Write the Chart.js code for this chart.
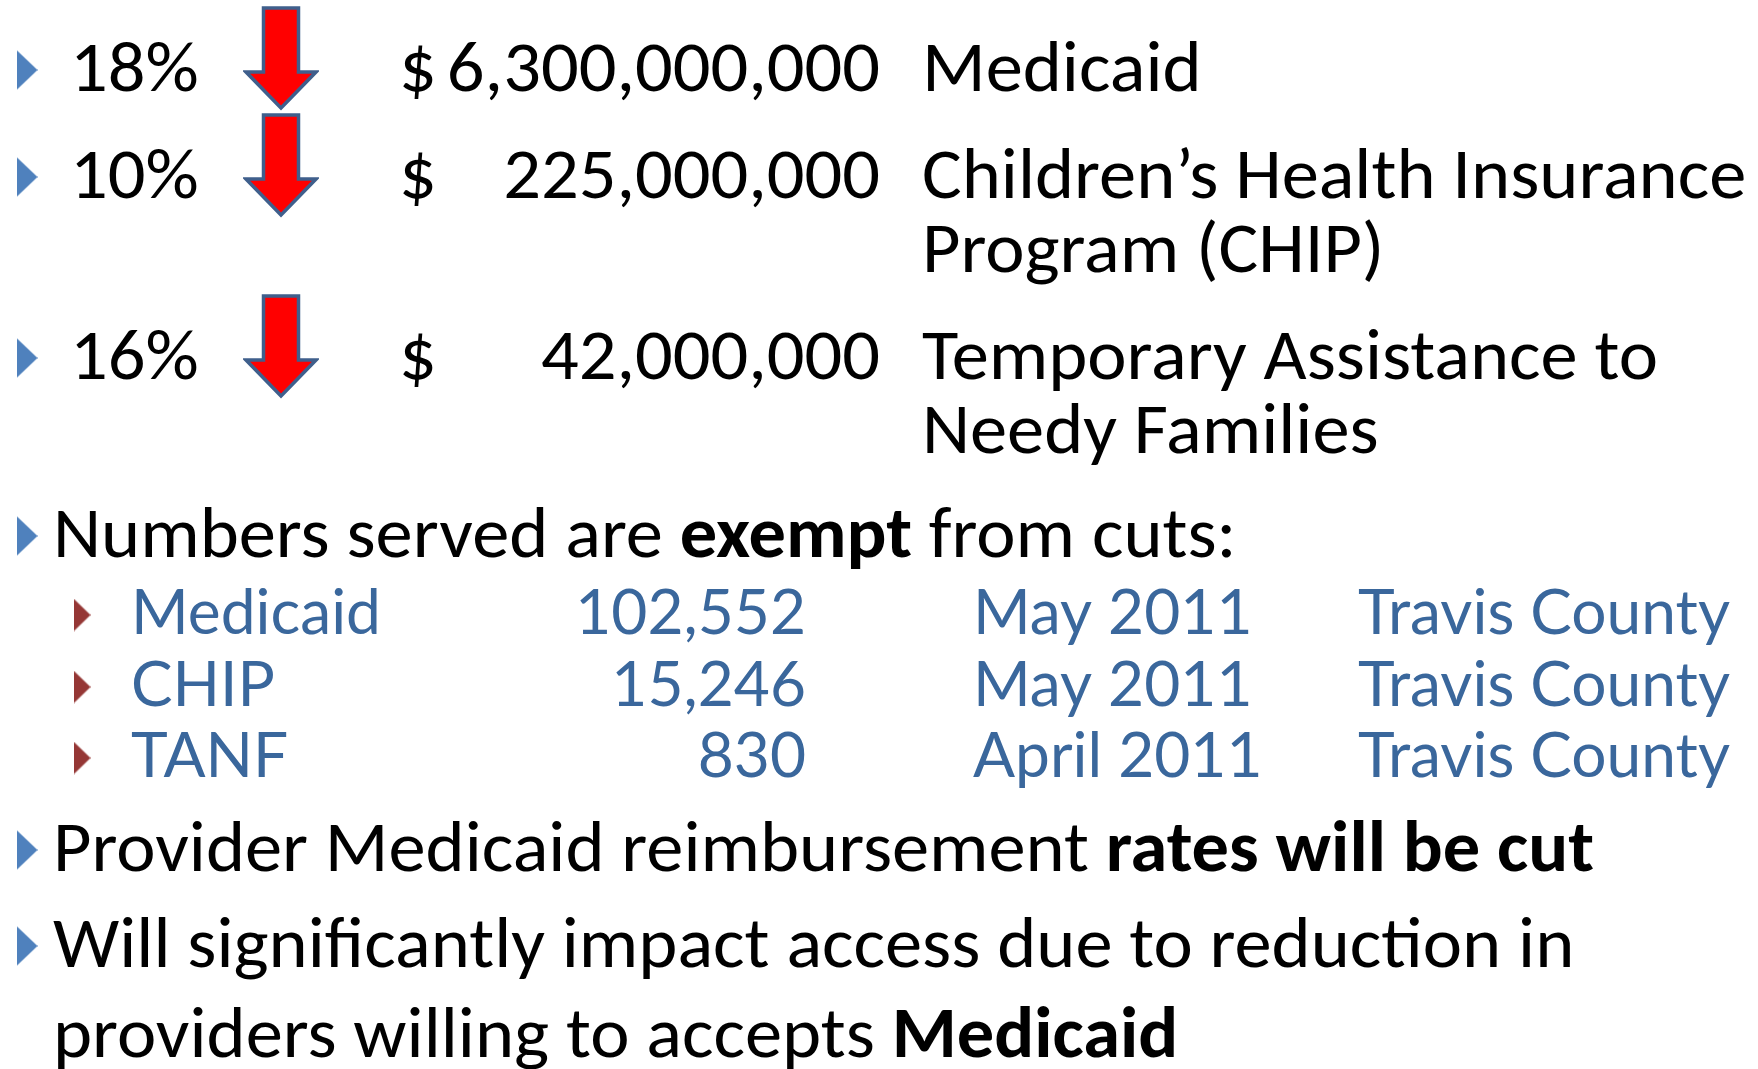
<!DOCTYPE html>
<html>
<head>
<meta charset="utf-8">
<script src="https://cdn.jsdelivr.net/npm/chart.js@4.4.1/dist/chart.umd.min.js"></script>
<style>
  html, body { margin:0; padding:0; background:#fff; }
</style>
</head>
<body>
<canvas id="slide" width="1758" height="1069"></canvas>
<script>
// ===============================
// DATA
// ===============================
const cutPct = [18, 10, 16];
const cutAmount = [6300000000, 225000000, 42000000];
const cutProgram = [
  ["Medicaid"],
  ["Children’s Health Insurance", "Program (CHIP)"],
  ["Temporary Assistance to", "Needy Families"]
];
const servedProgram = ["Medicaid", "CHIP", "TANF"];
const servedCount = [102552, 15246, 830];
const servedDate = ["May 2011", "May 2011", "April 2011"];
const servedArea = ["Travis County", "Travis County", "Travis County"];

// ===============================
// LAYOUT (slide pixels)
// ===============================
const W = 1758, H = 1069;
const cutRowY = [91, 198, 379];      // baselines of the cut rows
const wrapGap = 74;                  // second line of a wrapped name
const servedHeadY = 557;
const servedRowY = [634, 706, 777];
const noteY = [871, 967, 1057];
const col = {
  bullet: 27, pct: 70, arrow: 281, dollar: 399, amountRight: 880, program: 922,
  subBullet: 82, subName: 131, subCountRight: 806, subDate: 973, subArea: 1358, text: 53
};

const BLACK_FONT = "Carlito, Calibri, 'Open Sans', sans-serif";
const BLUE_FONT = "'Gill Sans MT', 'Gill Sans', Lato, sans-serif";
const BLUE = "#3a679c";

// ===============================
// POINT SHAPES
// ===============================
function arrowImg(){
  let c = document.createElement("canvas");
  c.width = 76; c.height = 106;
  let g = c.getContext("2d");
  let m = 3;
  g.beginPath();
  g.moveTo(m + 17.5, m);
  g.lineTo(m + 52.5, m);
  g.lineTo(m + 52.5, m + 64);
  g.lineTo(m + 70, m + 64);
  g.lineTo(m + 35, m + 100);
  g.lineTo(m, m + 64);
  g.lineTo(m + 17.5, m + 64);
  g.closePath();
  g.fillStyle = "#ff0000";
  g.fill();
  g.lineWidth = 3.5;
  g.strokeStyle = "#3f5f8c";
  g.stroke();
  return c;
}

function bulletImg(w, h, color){
  let c = document.createElement("canvas");
  c.width = w; c.height = h;
  let g = c.getContext("2d");
  g.beginPath();
  g.moveTo(0, 0);
  g.lineTo(w, h / 2);
  g.lineTo(0, h);
  g.closePath();
  g.fillStyle = color;
  g.fill();
  return c;
}

// ===============================
// TEXT HELPERS
// ===============================
function fontSize(ctx, family, weight, cap){
  ctx.font = weight + " 100px " + family;
  let a = ctx.measureText("H").actualBoundingBoxAscent || 71;
  return cap * 100 / a;
}

function runsWidth(ctx, runs, size, family){
  let w = 0;
  runs.forEach(r => {
    ctx.font = (r[1] ? "bold " : "normal ") + size + "px " + family;
    w += ctx.measureText(r[0]).width;
  });
  return w;
}

function drawRuns(ctx, runs, x, y, size, family, sx, color, align){
  let w = runsWidth(ctx, runs, size, family) * sx;
  let start = align === "right" ? x - w : x;
  ctx.save();
  ctx.translate(start, y);
  ctx.scale(sx, 1);
  ctx.fillStyle = color;
  ctx.textBaseline = "alphabetic";
  ctx.textAlign = "left";
  let cx = 0;
  runs.forEach(r => {
    ctx.font = (r[1] ? "bold " : "normal ") + size + "px " + family;
    ctx.fillText(r[0], cx, 0);
    cx += ctx.measureText(r[0]).width;
  });
  ctx.restore();
}

// ===============================
// TEXT PLUGIN
// ===============================
const slideText = {
  id: "slideText",
  afterDatasetsDraw(chart){
    let ctx = chart.ctx;
    let px = v => chart.scales.x.getPixelForValue(v);
    let py = v => chart.scales.y.getPixelForValue(v);

    let bSize = fontSize(ctx, BLACK_FONT, "normal", 47);
    let noteRuns = [["Provider Medicaid reimbursement ", false], ["rates will be cut", true]];
    let bSx = 1541 / runsWidth(ctx, noteRuns, bSize, BLACK_FONT);

    let lSize = fontSize(ctx, BLUE_FONT, "normal", 45);
    let lSx = 372 / runsWidth(ctx, [["Travis County", false]], lSize, BLUE_FONT);

    // cut rows
    cutPct.forEach((p, i) => {
      let y = py(cutRowY[i]);
      drawRuns(ctx, [[p + "%", false]], px(col.pct), y, bSize, BLACK_FONT, bSx, "#000");
      drawRuns(ctx, [["$", false]], px(col.dollar), y, bSize, BLACK_FONT, bSx, "#000");
      drawRuns(ctx, [[cutAmount[i].toLocaleString("en-US"), false]], px(col.amountRight), y,
        bSize, BLACK_FONT, bSx, "#000", "right");
      cutProgram[i].forEach((line, k) => {
        drawRuns(ctx, [[line, false]], px(col.program), py(cutRowY[i] + k * wrapGap),
          bSize, BLACK_FONT, bSx, "#000");
      });
    });

    // numbers served
    drawRuns(ctx, [["Numbers served are ", false], ["exempt", true], [" from cuts:", false]],
      px(col.text), py(servedHeadY), bSize, BLACK_FONT, bSx, "#000");
    servedProgram.forEach((name, i) => {
      let y = py(servedRowY[i]);
      drawRuns(ctx, [[name, false]], px(col.subName), y, lSize, BLUE_FONT, lSx, BLUE);
      drawRuns(ctx, [[servedCount[i].toLocaleString("en-US"), false]], px(col.subCountRight), y,
        lSize, BLUE_FONT, lSx, BLUE, "right");
      drawRuns(ctx, [[servedDate[i], false]], px(col.subDate), y, lSize, BLUE_FONT, lSx, BLUE);
      drawRuns(ctx, [[servedArea[i], false]], px(col.subArea), y, lSize, BLUE_FONT, lSx, BLUE);
    });

    // notes
    drawRuns(ctx, noteRuns, px(col.text), py(noteY[0]), bSize, BLACK_FONT, bSx, "#000");
    drawRuns(ctx, [["Will significantly impact access due to reduction in", false]],
      px(col.text), py(noteY[1]), bSize, BLACK_FONT, bSx, "#000");
    drawRuns(ctx, [["providers willing to accepts ", false], ["Medicaid", true]],
      px(col.text), py(noteY[2]), bSize, BLACK_FONT, bSx, "#000");
  }
};

// ===============================
// CHART
// ===============================
let mainBulletRows = cutRowY.concat([servedHeadY, noteY[0], noteY[1]]);

new Chart(document.getElementById("slide").getContext("2d"), {
  type: "scatter",
  data: {
    datasets: [
      {
        label: "cuts",
        data: cutPct.map((p, i) => ({ x: col.arrow, y: cutRowY[i] - 33 })),
        pointStyle: arrowImg(),
        pointRadius: 1
      },
      {
        label: "bullets",
        data: mainBulletRows.map(r => ({ x: col.bullet, y: r - 21 })),
        pointStyle: bulletImg(21, 40, "#4f81bd"),
        pointRadius: 1
      },
      {
        label: "sub bullets",
        data: servedCount.map((c, i) => ({ x: col.subBullet, y: servedRowY[i] - 19 })),
        pointStyle: bulletImg(17, 33, "#953735"),
        pointRadius: 1
      }
    ]
  },
  options: {
    responsive: false,
    animation: false,
    events: [],
    layout: { padding: 0, autoPadding: false },
    plugins: { legend: { display: false }, tooltip: { enabled: false } },
    scales: {
      x: { type: "linear", min: 0, max: W, display: false },
      y: { type: "linear", min: 0, max: H, reverse: true, display: false }
    }
  },
  plugins: [slideText]
});
</script>
</body>
</html>
